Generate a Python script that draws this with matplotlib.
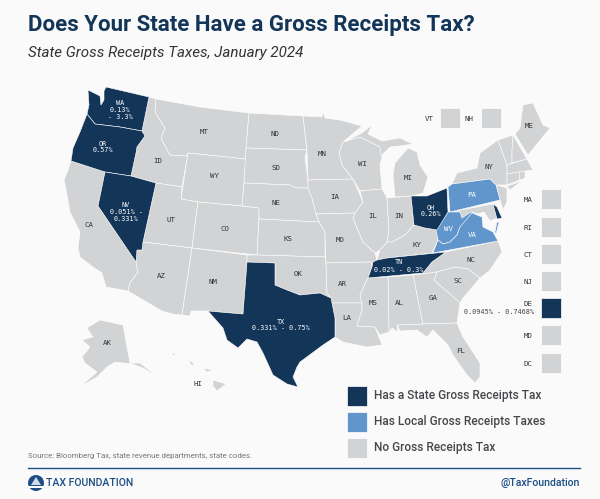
import matplotlib
matplotlib.use("Agg")
import matplotlib.pyplot as plt
from matplotlib.patches import Polygon, Rectangle, Circle

BG = "#fafafa"
GRAY = "#d2d3d5"
NAVY = "#133558"
BLUE = "#6096cc"
MONO = "DejaVu Sans Mono"
LABEL_SIZE = 5.3
VALUE_SIZE = 4.9

# state outlines (pixel coords)
WA = [(88,90),(100,96),(101,105),(104,100),(104,91),(106,87),(149,97),(142,131),(120,127),(95,124),(87,114),(89,105)]
OR = [(87,114),(95,124),(120,127),(142,131),(145,136),(137,147),(136,153),(131,176),(105,172),(71,161),(73,148),(80,132)]
CA = [(71,161),(105,172),(98,206),(136,262),(138,272),(130,283),(128,291),(106,287),(102,273),(93,267),(80,257),(78,248),(80,232),(70,212),(67,195),(64,180),(68,170)]
NV = [(105,172),(131,176),(156,183),(143,242),(142,250),(137,250),(136,262),(98,206)]
ID = [(156,99),(155,112),(165,128),(161,138),(170,155),(186,156),(188,153),(182,187),(156,183),(131,176),(136,153),(137,147),(145,136),(142,131),(149,97)]
MT = [(156,99),(200,107),(249,113),(246,148),(246,159),(188,153),(186,156),(170,155),(161,138),(165,128),(155,112)]
WY = [(188,153),(246,159),(244,183),(242,206),(198,202),(181,199)]
UT = [(156,183),(182,187),(181,199),(198,202),(192,248),(143,242)]
CO = [(198,202),(242,206),(259,208),(259,219),(257,255),(192,248)]
AZ = [(143,242),(192,248),(182,315),(173,314),(162,311),(128,291),(130,283),(138,272),(136,262),(137,250),(142,250)]
NM = [(192,248),(247,255),(247,262),(243,314),(208,311),(191,311),(190,316),(182,315)]
TX = [(247,262),(275,263),(275,285),(287,290),(300,295),(320,293),(331,298),(332,303),(335,318),(335,337),(323,345),(300,362),(297,367),(293,377),(298,387),(287,384),(273,375),(263,353),(257,342),(247,339),(238,348),(227,340),(223,328),(208,311),(243,314)]
ND = [(249,113),(303,116),(307,150),(246,148)]
SD = [(246,148),(307,150),(305,158),(308,180),(308,188),(296,188),(290,185),(244,183)]
NE = [(244,183),(290,185),(296,188),(308,188),(312,198),(316,214),(319,222),(259,219),(259,208),(242,206)]
KS = [(259,219),(319,222),(325,232),(325,257),(257,255)]
OK = [(247,255),(257,255),(325,257),(326,263),(327,293),(331,298),(320,293),(300,295),(287,290),(275,285),(275,263),(247,262)]
MN = [(303,116),(322,117),(323,112),(325,118),(340,120),(362,126),(343,142),(339,153),(342,165),(353,179),(308,180),(307,150)]
IA = [(308,180),(353,179),(363,202),(355,213),(316,214),(312,198),(308,188)]
MO = [(316,214),(355,213),(353,218),(363,242),(375,253),(377,260),(373,262),(372,267),(371,262),(326,263),(325,232),(319,222)]
AR = [(326,263),(371,262),(372,267),(368,278),(360,295),(362,303),(332,303),(331,298),(327,293)]
LA = [(332,303),(362,303),(362,310),(357,326),(375,327),(382,345),(367,347),(343,342),(335,337),(335,318)]
WI = [(343,142),(360,137),(380,147),(382,157),(380,165),(382,189),(360,191),(353,179),(342,165),(339,153)]
MI_UP = [(346,141),(362,133),(372,125),(368,134),(382,141),(400,138),(413,144),(400,146),(390,147),(381,156),(380,147),(360,137)]
MI = [(395,163),(408,148),(417,152),(420,165),(428,177),(423,193),(411,196),(395,197),(393,175)]
IL = [(360,191),(382,189),(387,198),(389,232),(387,242),(380,250),(375,253),(363,242),(353,218),(355,213),(363,202)]
IN = [(387,198),(411,196),(414,225),(405,235),(392,242),(387,242),(389,232)]
OH = [(411,196),(427,196),(447,188),(448,212),(437,230),(425,228),(414,225)]
KY = [(414,225),(425,228),(436,230),(438,240),(432,253),(387,258),(377,260),(380,250),(387,242),(392,242),(405,235)]
TN = [(373,262),(377,260),(387,258),(446,252),(432,262),(423,273),(368,278),(372,267)]
WV = [(448,212),(460,212),(462,218),(471,212),(477,215),(472,223),(460,227),(457,235),(450,242),(443,244),(438,240),(436,230)]
VA = [(433,253),(438,240),(443,244),(450,242),(457,235),(460,227),(472,213),(482,217),(483,227),(493,232),(498,241)]
VA_SHORE = [(497,222),(499,222),(496,234),(495,232)]
PA = [(452,184),(448,187),(450,212),(500,200),(496,185),(490,179)]
MD = [(450,212),(493,204),(497,218),(490,221),(484,212),(478,214),(472,212),(462,218),(460,212)]
DE = [(493,204),(497,207),(502,218),(497,219)]
NJ = [(496,185),(507,188),(507,202),(503,210),(500,200)]
NY = [(452,184),(457,173),(477,168),(480,153),(498,140),(507,165),(507,185),(496,185),(490,179)]
LI = [(507,186),(522,181),(510,190)]
VT = [(498,140),(513,135),(512,152),(512,163),(507,165)]
NH = [(513,135),(527,159),(512,163),(512,150)]
ME = [(520,128),(523,105),(533,103),(543,125),(550,128),(528,155),(515,134)]
MA = [(507,165),(527,159),(533,170),(525,171),(507,174)]
CT = [(507,174),(519,172),(520,180),(507,185)]
RI = [(519,172),(525,171),(525,178),(520,180)]
NC = [(446,252),(498,241),(502,252),(490,270),(480,278),(468,269),(455,267),(437,272),(422,274),(423,273),(432,262)]
SC = [(437,272),(455,267),(468,269),(480,278),(463,298),(460,303),(445,290),(434,280)]
GA = [(413,275),(422,274),(437,272),(434,280),(460,303),(457,323),(423,324),(422,320)]
FL = [(397,325),(423,324),(457,323),(463,337),(480,363),(480,377),(475,383),(467,375),(453,355),(448,345),(440,337),(433,330),(427,337),(417,330),(400,331)]
AL = [(388,277),(413,275),(422,320),(423,324),(397,325),(398,332),(392,328),(389,332)]
MS = [(368,278),(388,277),(389,332),(380,335),(375,327),(357,326),(362,310),(362,303),(360,295)]
AK = [(87,328),(100,320),(123,325),(130,363),(140,363),(158,377),(143,368),(132,364),(115,362),(107,367),(97,377),(80,387),(97,372),(85,363),(82,357),(90,347),(82,340),(93,337)]
HI = [(213,380),(226,384),(217,391),(213,386)]
HI2 = [(188,360),(194,363),(192,366)]
HI3 = [(203,368),(213,370),(207,372)]
HI4 = [(172,353),(176,354),(173,356)]

state_gross = [WA, OR, NV, TX, OH, TN, DE]
local_gross = [PA, WV, VA, VA_SHORE]
no_tax = [CA, ID, MT, WY, UT, CO, AZ, NM, ND, SD, NE, KS, OK, MN, IA, MO, AR, LA, WI, MI_UP, MI, IL, IN, KY,
          MD, NJ, NY, LI, VT, NH, ME, MA, CT, RI, NC, SC, GA, FL, AL, MS, AK, HI, HI2, HI3, HI4]

# abbreviation, x, y
gray_labels = [("MT",204,132),("ND",275,134),("MN",322,154),("WI",362,164),("MI",408,178),("NY",489,167),("ME",529,126),
               ("ID",158,161),("WY",215,176),("SD",276,168),("NE",276,203),("IA",335,197),("IL",373,216),("IN",399,216),
               ("UT",171,220),("CO",225,229),("KS",288,239),("MO",340,240),("KY",417,245),("NC",471,260),("SC",458,281),
               ("CA",89,225),("AZ",161,276),("NM",213,282),("OK",298,274),("AR",342,284),("MS",373,303),
               ("AL",399,303),("GA",433,298),("LA",347,318),("FL",461,351),("AK",107,343),("HI",198,384)]
dark_labels = [("WA\n0.13%\n- 3.3%",120,110),("OR\n0.57%",103,147),("NV\n0.051% -\n0.331%",126,212),
               ("TX\n0.331% - 0.75%",281,325),("OH\n0.26%",431,211),("TN\n0.02% - 0.3%",399,266),
               ("PA",472,195),("WV",449,229),("VA",472,235)]

box_names = ["VT","NH","MA","RI","CT","NJ","DE","MD","DC"]
legend_labels = ["Has a State Gross Receipts Tax","Has Local Gross Receipts Taxes","No Gross Receipts Tax"]

fig = plt.figure(figsize=(6,4.99), dpi=100, facecolor=BG)
ax = fig.add_axes([0,0,1,1])
ax.set_xlim(0,600)
ax.set_ylim(499,0)
ax.axis("off")

for group, col in [(no_tax,GRAY),(local_gross,BLUE),(state_gross,NAVY)]:
    for st in group:
        ax.add_patch(Polygon(st, closed=True, facecolor=col, edgecolor="white", lw=0.4, joinstyle="round"))

for name, x, y in gray_labels:
    ax.text(x, y, name, family=MONO, fontsize=LABEL_SIZE, color="#333333", ha="center", va="center")
for txt, x, y in dark_labels:
    size = LABEL_SIZE if "\n" not in txt else VALUE_SIZE
    ax.text(x, y, txt, family=MONO, fontsize=size, color="white", ha="center", va="center", linespacing=1.2)

# small-state boxes
box_x = [440,481,541,541,541,541,541,541,541]
box_y = [108,108,189,217,244,271,298,325,353]
label_x = [429,469,533,533,533,533,533,533,533]
for name, x, y, lx in zip(box_names, box_x, box_y, label_x):
    col = NAVY if name == "DE" else GRAY
    ax.add_patch(Rectangle((x,y), 20, 20, facecolor=col, edgecolor="white", lw=0.5))
    ax.text(lx, y+11 if name != "DE" else y+6, name, family=MONO, fontsize=LABEL_SIZE, color="#333333", ha="right" if lx > 500 else "center", va="center")
ax.text(534, 312, "0.0945% - 0.7468%", family=MONO, fontsize=VALUE_SIZE, color="#444444", ha="right", va="center")

# legend
for i, (lab, col) in enumerate(zip(legend_labels, [NAVY,BLUE,GRAY])):
    y = 386 + i*26
    ax.add_patch(Rectangle((347,y), 20, 20, facecolor=col, edgecolor="white", lw=0.5))
    ax.text(374, y+9, lab, family="Roboto", fontsize=8.6, fontweight="medium", color="#45474a", va="center")

ax.text(28, 25, "Does Your State Have a Gross Receipts Tax?", family="Roboto", fontsize=16, fontweight="bold", color=NAVY, va="center")
ax.text(28, 53, "State Gross Receipts Taxes, January 2024", family="Roboto", fontsize=10.9, style="italic", color="#333333", va="center")
ax.text(28, 456, "Source: Bloomberg Tax, state revenue departments, state codes.", family="Roboto", fontsize=5.65, color="#777777", va="center")

ax.plot([28,580],[468,468], color="#1c4f86", lw=1.0)
ax.add_patch(Circle((36,483), 8, facecolor="#1c4f86", edgecolor="none"))
ax.add_patch(Rectangle((29,486), 14, 1.5, facecolor="white", edgecolor="none"))
ax.add_patch(Polygon([(31,485),(36,477),(41,485)], closed=True, facecolor="#cfdbe8", edgecolor="none"))
ax.text(46, 483, "TAX FOUNDATION", family="Roboto", fontsize=7.6, fontweight="medium", color="#1c4f86", va="center")
ax.text(580, 483, "@TaxFoundation", family="Roboto", fontsize=7.6, fontweight="medium", color="#1c4f86", ha="right", va="center")

fig.savefig("out.png", dpi=100, facecolor=BG)
